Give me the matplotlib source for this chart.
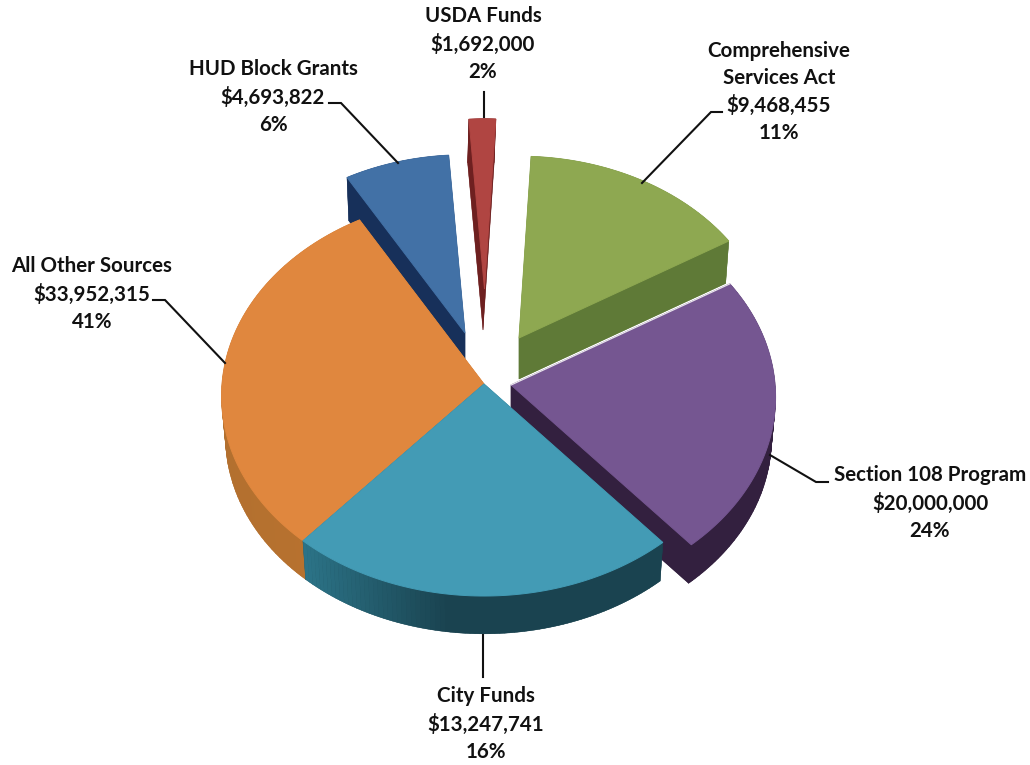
import matplotlib
matplotlib.use('Agg')
import matplotlib.pyplot as plt
import matplotlib.colors as mcolors
import numpy as np

plt.rcParams['font.family'] = ['Lato', 'DejaVu Sans']

# what the labels say
sliceNames    = ['USDA Funds', 'Comprehensive\nServices Act', 'Section 108 Program', 'City Funds', 'All Other Sources', 'HUD Block Grants']
sliceDollars  = [1692000, 9468455, 20000000, 13247741, 33952315, 4693822]
slicePercents = [2, 11, 24, 16, 41, 6]

# the drawn wedges do not follow the printed percents, so their widths are read off the picture
sliceShare = [1.92, 15.50, 22.40, 22.76, 30.2, 7.22]

topColors  = ['#B04542', '#8EA851', '#755691', '#439BB5', '#E0873E', '#4271A6']
wallLeft   = ['#6E2020', '#5F7A37', '#33203F', '#2C7488', '#B3702F', '#17305A']
wallRight  = ['#6E2020', '#5F7A37', '#33203F', '#1A4350', '#B8722F', '#17305A']

# explode: where each wedge tip sits (pixels), and how big the wedge is
apexX  = [484.5, 519, 511, 484, 484, 465]
apexY  = [289, 338, 385, 384, 384, 333]
radius = [0.90, 0.965, 1.008, 1.0, 1.0, 0.945]
wallDx = [-1.5, 0, 0, 0, 0, 0]

startAngle = -4.0
rx, ry = 262.0, 199.3
persp  = 0.06
depth  = 41.0
shrink = 0.985   # bottom of the wall is a bit further from the eye

labelX = [483, 779, 930, 486, 92, 273]
labelY = [44, 92, 503, 724, 294, 97]

leaders = [
    ([484, 484], [92, 117]),
    ([722, 711, 642], [112, 112, 183]),
    ([828, 816, 770], [482, 482, 455]),
    ([483, 483], [635, 677]),
    ([153, 165, 225], [300, 300, 363]),
    ([329, 341, 398], [103, 103, 163]),
]


def wedgeOutline(i, a0, a1):
    t = np.radians(np.linspace(a0, a1, 80))
    u = radius[i] * np.sin(t)
    v = radius[i] * np.cos(t)
    w = 1 + persp * v
    x = rx * u / w
    y = -ry * v / w
    # tip first, then the arc (relative to tip)
    return np.r_[0, x], np.r_[0, y]


fig = plt.figure(figsize=(10.3, 7.65), dpi=100)
ax = fig.add_axes([0, 0, 1, 1])
ax.set_xlim(0, 1030)
ax.set_ylim(765, 0)
ax.axis('off')

angles = startAngle + np.r_[0, np.cumsum(sliceShare)] / np.sum(sliceShare) * 360

# back to front
for i in [0, 5, 1, 4, 2, 3]:
    x, y = wedgeOutline(i, angles[i], angles[i + 1])
    topX, topY = apexX[i] + x, apexY[i] + y
    botX, botY = apexX[i] + x * shrink + wallDx[i], apexY[i] + y * shrink + depth

    left  = np.array(mcolors.to_rgb(wallLeft[i]))
    right = np.array(mcolors.to_rgb(wallRight[i]))
    ax.fill(botX, botY, color=right, lw=0, zorder=1)
    n = len(topX)
    # the two cut faces go first, the rim of the arc covers them
    for k in [0, n - 1] + list(range(1, n - 1)):
        j = (k + 1) % n
        frac = np.clip(((topX[k] + topX[j]) / 2 - topX.min()) / (0.4 * np.ptp(topX)), 0, 1)
        c = left + (right - left) * frac
        ax.fill([topX[k], topX[j], botX[j], botX[k]], [topY[k], topY[j], botY[j], botY[k]],
                color=c, lw=0.3, zorder=1)
    ax.fill(topX, topY, color=topColors[i], lw=0.7, zorder=1)
    if i == 2:
        # light rim along the purple cut
        ax.plot(topX[:2], topY[:2], color='#E8E4EC', lw=0.9, zorder=1)

for lx, ly in leaders:
    ax.plot(lx, ly, color='#111111', lw=1.5, solid_joinstyle='miter', zorder=2)

for i in range(len(sliceNames)):
    txt = f'{sliceNames[i]}\n${sliceDollars[i]:,}\n{slicePercents[i]}%'
    ax.text(labelX[i], labelY[i], txt, ha='center', va='center', fontsize=14.8, fontweight='bold',
            color='#111111', linespacing=1.44, zorder=3)

fig.savefig('out.png', dpi=100)
